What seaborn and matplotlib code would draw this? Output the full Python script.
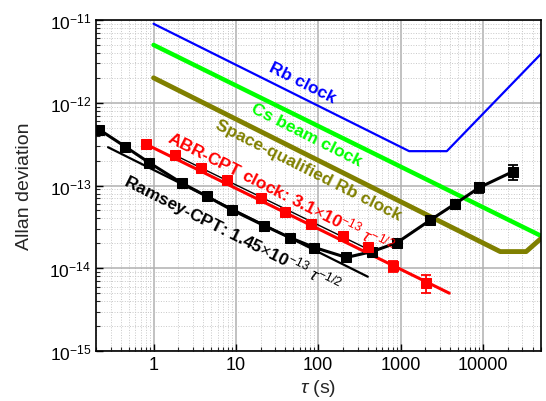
import numpy as np
import pandas as pd
import matplotlib
matplotlib.use("Agg")
import matplotlib.pyplot as plt
import matplotlib.ticker as mticker
import seaborn as sns

# ---------------- data ----------------
ramsey_tau = [0.22, 0.45, 0.89, 2.2, 4.4, 8.9, 22, 45, 90, 220, 450, 900, 2260, 4540, 9060, 23000]
ramsey_adev = [4.72e-13, 2.96e-13, 1.88e-13, 1.07e-13, 7.44e-14, 5.08e-14, 3.28e-14, 2.35e-14,
               1.78e-14, 1.35e-14, 1.59e-14, 2.03e-14, 3.78e-14, 5.96e-14, 9.46e-14, 1.47e-13]
ramsey_err = [0, 0, 0, 0, 0, 0, 0, 0, 0, 0, 0, 0, 0, 0, 1.4e-14, 3.0e-14]

abr_tau = [0.8, 1.8, 3.8, 7.9, 20, 40, 81, 200, 400, 800, 2060]
abr_adev = [3.17e-13, 2.31e-13, 1.65e-13, 1.16e-13, 7.04e-14, 4.85e-14, 3.41e-14, 2.44e-14,
            1.80e-14, 1.07e-14, 6.6e-15]
abr_err = [0, 0, 0, 0, 0, 0, 0, 0, 0, 1.7e-15, 1.6e-15]

ramsey_fit_tau = [0.28, 400]
ramsey_fit_adev = [2.9e-13, 7.9e-15]
abr_fit_tau = [0.8, 3900]
abr_fit_adev = [3.17e-13, 5.0e-15]
thin_fit_tau = [1.75, 449]
thin_fit_adev = [2.37e-13, 1.61e-14]

rb_tau = [1, 1270, 3640, 50000]
rb_adev = [9.0e-12, 2.6e-13, 2.6e-13, 3.84e-12]
cs_tau = [1, 50000]
cs_adev = [5.0e-12, 2.48e-14]
space_tau = [1, 16200, 33500, 50000]
space_adev = [2.0e-12, 1.59e-14, 1.59e-14, 2.26e-14]

x_ticks = [1, 10, 100, 1000, 10000]
x_ticklabels = ["1", "10", "100", "1000", "10000"]
y_ticks = [1e-15, 1e-14, 1e-13, 1e-12, 1e-11]
y_ticklabels = [r"$10^{-15}$", r"$10^{-14}$", r"$10^{-13}$", r"$10^{-12}$", r"$10^{-11}$"]

label_texts = ["Rb clock", "Cs beam clock", "Space-qualified Rb clock",
               r"ABR-CPT clock: 3.1$\times$10$^{-13}$ $\tau^{-1/2}$",
               r"Ramsey-CPT: 1.45$\times$10$^{-13}$ $\tau^{-1/2}$"]
label_colors = ["#0000ff", "#00ff00", "#808000", "#ff0000", "black"]
label_tau = [64.4, 72, 75.5, 35.8, 9.0]
label_adev = [1.78e-12, 4.14e-13, 1.56e-13, 8.7e-14, 2.72e-14]

# ---------------- style ----------------
sns.set_theme(style="white")
plt.rcParams["font.family"] = ["Liberation Sans", "DejaVu Sans"]
plt.rcParams["mathtext.fontset"] = "custom"
plt.rcParams["mathtext.rm"] = "Liberation Sans"
plt.rcParams["mathtext.it"] = "Liberation Sans:italic"
plt.rcParams["mathtext.bf"] = "Liberation Sans:bold"

fig = plt.figure(figsize=(5.46, 4.02), dpi=100)
ax = fig.add_axes([96 / 546, 1 - 352 / 402, (540.5 - 96) / 546, (352 - 21) / 402])
ax.set_xscale("log")
ax.set_yscale("log")
ax.set_xlim(0.2, 50000)
ax.set_ylim(1e-15, 1e-11)

ax.grid(True, which="major", color="#b0b0b0", lw=1.1, ls="-", zorder=0)
ax.grid(True, which="minor", color="#c8c8c8", lw=0.7, ls=":", zorder=0)
ax.set_axisbelow(True)

# reference clocks
sns.lineplot(x=rb_tau, y=rb_adev, ax=ax, color="#0000ff", lw=1.6, sort=False, estimator=None)
sns.lineplot(x=cs_tau, y=cs_adev, ax=ax, color="#00ff00", lw=3.2, sort=False, estimator=None)
sns.lineplot(x=space_tau, y=space_adev, ax=ax, color="#808000", lw=3.5, sort=False, estimator=None)

# fits
sns.lineplot(x=ramsey_fit_tau, y=ramsey_fit_adev, ax=ax, color="black", lw=1.6, sort=False, estimator=None)
sns.lineplot(x=abr_fit_tau, y=abr_fit_adev, ax=ax, color="#ff0000", lw=2.2, sort=False, estimator=None)
sns.lineplot(x=thin_fit_tau, y=thin_fit_adev, ax=ax, color="black", lw=1.0, sort=False, estimator=None)

# data
sns.lineplot(x=ramsey_tau, y=ramsey_adev, ax=ax, color="black", lw=2.2, marker="s", markersize=7.5,
             markeredgecolor="black", sort=False, estimator=None, zorder=5)
sns.lineplot(x=abr_tau, y=abr_adev, ax=ax, color="#ff0000", lw=0, marker="s", markersize=7.5,
             markeredgecolor="#ff0000", sort=False, estimator=None, zorder=5)

rt = np.array(ramsey_tau); ra = np.array(ramsey_adev); re = np.array(ramsey_err)
m = re > 0
ax.errorbar(rt[m], ra[m], yerr=re[m], fmt="none", ecolor="black", elinewidth=1.3, capsize=3.5, capthick=1.3, zorder=6)
at = np.array(abr_tau); aa = np.array(abr_adev); ae = np.array(abr_err)
m = ae > 0
ax.errorbar(at[m], aa[m], yerr=ae[m], fmt="none", ecolor="#ff0000", elinewidth=1.3, capsize=3.5, capthick=1.3, zorder=6)

# labels on lines
rot = -26.7
for t, c, lx, ly in zip(label_texts, label_colors, label_tau, label_adev):
    ax.text(lx, ly, t, color=c, rotation=rot, rotation_mode="anchor", ha="center", va="center",
            fontsize=12.5, fontweight="bold", zorder=7)

# axes formatting
ax.set_xticks(x_ticks)
ax.set_xticklabels(x_ticklabels)
ax.set_yticks(y_ticks)
ax.set_yticklabels(y_ticklabels)
ax.xaxis.set_minor_locator(mticker.LogLocator(base=10, subs=np.arange(2, 10), numticks=20))
ax.yaxis.set_minor_locator(mticker.LogLocator(base=10, subs=np.arange(2, 10), numticks=20))
ax.yaxis.set_minor_formatter(mticker.NullFormatter())
ax.xaxis.set_minor_formatter(mticker.NullFormatter())
ax.set_xlim(0.2, 50000)
ax.set_ylim(1e-15, 1e-11)
ax.tick_params(which="major", direction="in", length=5, width=1, colors="black",
               top=False, right=False, bottom=True, left=True)
ax.tick_params(axis="x", which="major", labelsize=13)
ax.tick_params(axis="y", which="major", labelsize=12.5)
ax.tick_params(which="minor", direction="in", length=3, width=0.8, top=False, right=False, bottom=True, left=True)
for s in ax.spines.values():
    s.set_color("black")
    s.set_linewidth(1.2)

ax.set_xlabel(r"$\tau$ (s)", fontsize=14, va="center")
ax.set_ylabel("Allan deviation", fontsize=14, va="center")
ax.xaxis.set_label_coords(0.5, -0.109)
ax.yaxis.set_label_coords(-0.16, 0.5)

fig.savefig("out.png", dpi=100)
